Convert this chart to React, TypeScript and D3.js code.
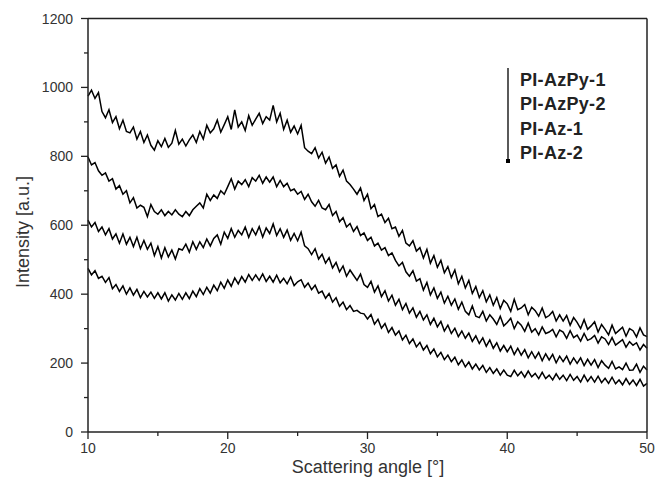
import React from "react";
import * as d3 from "d3";

const angleStart = 10;
const angleStep = 0.25;

const seriesNames = ["PI-AzPy-1", "PI-AzPy-2", "PI-Az-1", "PI-Az-2"];

const azpy1 = [
  975, 992, 968, 985, 930, 912, 935, 898, 915, 880, 905, 872, 868, 885, 850, 872,
  840, 862, 832, 818, 845, 828, 852, 826, 838, 875, 835, 850, 830, 848, 862, 840,
  872, 850, 890, 868, 880, 905, 870, 892, 915, 878, 935, 885, 900, 875, 918, 890,
  908, 925, 895, 915, 905, 948, 900, 925, 878, 905, 870, 888, 865, 890, 825, 815,
  808, 825, 795, 812, 780, 798, 765, 775, 742, 760, 728, 718, 705, 690, 708, 672,
  690, 648, 660, 625, 632, 608, 620, 590, 595, 568, 585, 548, 540, 555, 525, 535,
  505, 530, 490, 512, 478, 498, 462, 480, 448, 470, 430, 452, 418, 440, 402, 422,
  390, 410, 378, 398, 368, 390, 358, 382, 372, 350, 385, 355, 360, 370, 340, 362,
  352, 336, 360, 332, 338, 350, 322, 340, 322, 338, 310, 332, 318, 300, 326, 298,
  308, 320, 290, 312, 298, 282, 310, 286, 295, 304, 278, 300, 294, 276, 302, 282,
  277,
];

const azpy2 = [
  798, 775, 782, 758, 745, 752, 728, 735, 705, 715, 690, 700, 665, 680, 650, 658,
  652, 625, 660, 640, 632, 645, 628, 640, 630, 645, 632, 625, 640, 628, 645, 655,
  665, 650, 690, 672, 688, 678, 700, 690, 712, 735, 705, 728, 718, 732, 712, 738,
  728, 745, 722, 740, 725, 740, 712, 730, 712, 722, 700, 705, 690, 698, 675, 690,
  668, 655, 672, 650, 645, 660, 628, 640, 610, 622, 595, 605, 582, 596, 570, 578,
  556, 565, 540, 548, 528, 535, 512, 520, 498, 482, 492, 465, 452, 468, 438, 445,
  412, 434, 398, 418, 388, 406, 374, 394, 368, 386, 356, 377, 350, 340, 366, 336,
  332, 350, 322, 340, 328, 312, 336, 308, 318, 330, 300, 320, 310, 292, 316, 290,
  300, 282, 305, 286, 290, 298, 276, 296, 290, 272, 294, 274, 281, 264, 286, 266,
  271, 280, 258, 276, 270, 254, 274, 252, 260, 268, 246, 262, 252, 259, 238, 254,
  243,
];

const az1 = [
  615, 595, 608, 582, 595, 572, 590, 560, 575, 548, 575, 545, 565, 538, 565, 532,
  556, 530, 548, 512, 538, 505, 535, 508, 528, 502, 532, 528, 545, 522, 552, 530,
  552, 535, 560, 540, 562, 572, 545, 580, 562, 590, 565, 585, 572, 595, 565, 590,
  572, 596, 566, 592, 576, 604, 570, 590, 565, 586, 556, 576, 555, 580, 540, 532,
  515, 532, 502, 516, 490, 506, 476, 492, 465, 482, 452, 470, 455, 440, 458, 428,
  420, 437, 406, 424, 393, 410, 380, 397, 368, 385, 355, 373, 345, 360, 333, 350,
  325, 340, 312, 330, 305, 321, 293, 310, 286, 301, 277, 293, 272, 287, 263, 279,
  257, 273, 249, 267, 243, 259, 235, 251, 233, 249, 225, 243, 223, 239, 215, 233,
  214, 231, 207, 227, 209, 225, 201, 220, 204, 220, 197, 215, 199, 215, 193, 211,
  194, 210, 187, 207, 194, 185, 205, 183, 189, 181, 200, 179, 180, 197, 173, 191,
  180,
];

const az2 = [
  475, 456, 468, 446, 452, 434, 448, 416, 428, 408, 424, 400, 418, 397, 414, 390,
  408, 392, 406, 388, 404, 386, 404, 380, 398, 383, 402, 385, 404, 387, 409, 393,
  416, 399, 420, 403, 426, 410, 435, 417, 441, 423, 447, 430, 451, 435, 457, 440,
  456, 440, 459, 437, 452, 435, 455, 433, 446, 430, 450, 425, 436, 442, 420, 432,
  413, 426, 403, 409, 388, 402, 377, 390, 365, 377, 355, 367, 350, 353, 345, 343,
  328, 341, 313, 327, 301, 315, 289, 303, 281, 293, 267, 281, 257, 270, 247, 260,
  238, 251, 227, 241, 218, 231, 210, 223, 204, 217, 195, 209, 189, 203, 183, 197,
  180, 193, 173, 187, 170, 183, 165, 180, 165, 161, 179, 163, 175, 159, 177, 160,
  170, 155, 173, 155, 165, 151, 169, 153, 165, 149, 167, 150, 161, 145, 165, 147,
  161, 145, 162, 143, 156, 141, 159, 140, 151, 137, 155, 138, 151, 135, 153, 133,
  141,
];

const seriesValues = [azpy1, azpy2, az1, az2];

const yTickValues = [0, 200, 400, 600, 800, 1000, 1200];
const yMinorValues = [100, 300, 500, 700, 900, 1100];
const xTickValues = [10, 20, 30, 40, 50];
const xMinorValues = [15, 25, 35, 45];

const W = 656;
const H = 490;
const left = 88;
const right = 647;
const top = 18.5;
const bottom = 432;

export default function App() {
  const x = d3.scaleLinear().domain([10, 50]).range([left, right]);
  const y = d3.scaleLinear().domain([0, 1200]).range([bottom, top]);
  const line = d3
    .line<number>()
    .x((_, i) => x(angleStart + i * angleStep))
    .y((v) => y(v));

  const font = "'Liberation Sans', Arial, sans-serif";
  const axisColor = "#222";
  const legendX = 520;
  const legendBase = [86, 110, 135, 159];

  return (
    <svg
      width={W}
      height={H}
      style={{ position: "absolute", left: 0, top: 0, background: "#fff" }}
      fontFamily={font}
    >
      <rect x={0} y={0} width={W} height={H} fill="#fff" />
      {seriesValues.map((vals, i) => (
        <path
          key={seriesNames[i]}
          d={line(vals) || ""}
          fill="none"
          stroke="#000"
          strokeWidth={1.5}
          strokeLinejoin="miter"
        />
      ))}
      {/* frame */}
      <line x1={left} y1={top} x2={right} y2={top} stroke={axisColor} strokeWidth={1.5} />
      <line x1={right} y1={top} x2={right} y2={bottom} stroke={axisColor} strokeWidth={1.5} />
      <line x1={left} y1={top} x2={left} y2={bottom} stroke={axisColor} strokeWidth={1.5} />
      <line x1={left} y1={bottom} x2={right} y2={bottom} stroke={axisColor} strokeWidth={1.5} />
      {/* y ticks */}
      {yTickValues.map((v) => (
        <g key={"yt" + v}>
          <line x1={left - 7} x2={left} y1={y(v)} y2={y(v)} stroke={axisColor} strokeWidth={1.3} />
          <text x={left - 15} y={y(v) + 5} textAnchor="end" fontSize={14} fill="#333">
            {v}
          </text>
        </g>
      ))}
      {yMinorValues.map((v) => (
        <line key={"ym" + v} x1={left - 4} x2={left} y1={y(v)} y2={y(v)} stroke={axisColor} strokeWidth={1.3} />
      ))}
      {/* x ticks */}
      {xTickValues.map((v) => (
        <g key={"xt" + v}>
          <line x1={x(v)} x2={x(v)} y1={bottom} y2={bottom + 7} stroke={axisColor} strokeWidth={1.3} />
          <text x={x(v)} y={bottom + 21} textAnchor="middle" fontSize={14} fill="#333">
            {v}
          </text>
        </g>
      ))}
      {xMinorValues.map((v) => (
        <line key={"xm" + v} x1={x(v)} x2={x(v)} y1={bottom} y2={bottom + 4} stroke={axisColor} strokeWidth={1.3} />
      ))}
      {/* axis titles */}
      <text x={368} y={473} textAnchor="middle" fontSize={18} fill="#333">
        Scattering angle [°]
      </text>
      <text
        transform={`translate(29, 232) rotate(-90)`}
        textAnchor="middle"
        fontSize={18}
        fill="#333"
      >
        Intensity [a.u.]
      </text>
      {/* legend */}
      <line x1={508} x2={508} y1={68} y2={161} stroke="#000" strokeWidth={1.3} />
      <rect x={506} y={159} width={4} height={4} fill="#000" />
      {seriesNames.map((n, i) => (
        <text
          key={"lg" + n}
          x={legendX}
          y={legendBase[i]}
          fontSize={18}
          fontWeight="bold"
          fill="#222"
          letterSpacing={0.3}
        >
          {n}
        </text>
      ))}
    </svg>
  );
}
